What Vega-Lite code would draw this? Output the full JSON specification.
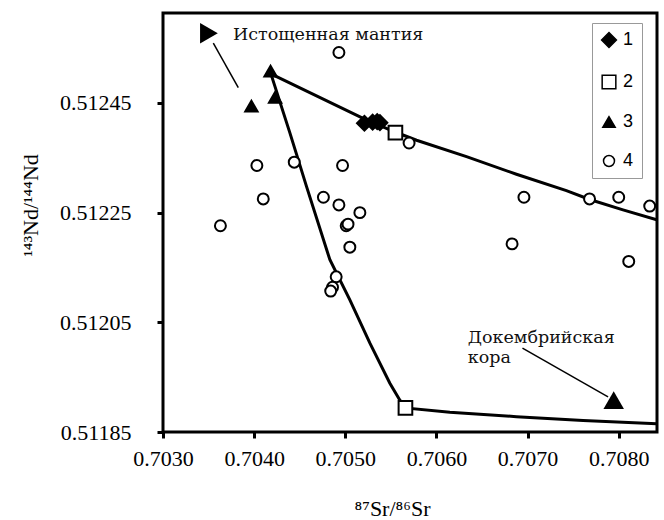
{
  "$schema": "https://vega.github.io/schema/vega-lite/v6.json",
  "width": 494,
  "height": 419,
  "autosize": {"type": "none"},
  "padding": {"left": 163, "top": 13, "right": 7, "bottom": 88},
  "background": "white",
  "config": {
    "view": {"stroke": "black", "strokeWidth": 3},
    "axis": {
      "domain": false,
      "grid": false,
      "ticks": true,
      "tickColor": "black",
      "tickWidth": 3,
      "tickSize": 6,
      "labelFlush": false,
      "labelOverlap": false,
      "labelFont": "Liberation Serif",
      "labelFontSize": 22,
      "labelColor": "black",
      "titleFont": "Liberation Serif",
      "titleFontSize": 22,
      "titleFontWeight": "normal",
      "titleColor": "black"
    },
    "legend": {
      "labelFont": "Liberation Sans",
      "labelFontSize": 18,
      "labelColor": "black"
    }
  },
  "datasets": {
    "pts": [
      {"x": 0.70521, "y": 0.512413, "type": "1"},
      {"x": 0.70530, "y": 0.512415, "type": "1"},
      {"x": 0.70535, "y": 0.512416, "type": "1"},
      {"x": 0.70538, "y": 0.512414, "type": "1"},
      {"x": 0.70555, "y": 0.512396, "type": "2"},
      {"x": 0.70566, "y": 0.511894, "type": "2"},
      {"x": 0.70418, "y": 0.512508, "type": "3"},
      {"x": 0.70423, "y": 0.512460, "type": "3"},
      {"x": 0.70397, "y": 0.512444, "type": "3"},
      {"x": 0.70493, "y": 0.512542, "type": "4"},
      {"x": 0.70403, "y": 0.512336, "type": "4"},
      {"x": 0.70444, "y": 0.512342, "type": "4"},
      {"x": 0.70497, "y": 0.512336, "type": "4"},
      {"x": 0.70410, "y": 0.512275, "type": "4"},
      {"x": 0.70476, "y": 0.512278, "type": "4"},
      {"x": 0.70493, "y": 0.512264, "type": "4"},
      {"x": 0.70516, "y": 0.512250, "type": "4"},
      {"x": 0.70501, "y": 0.512226, "type": "4"},
      {"x": 0.70503, "y": 0.512229, "type": "4"},
      {"x": 0.70363, "y": 0.512226, "type": "4"},
      {"x": 0.70505, "y": 0.512187, "type": "4"},
      {"x": 0.70490, "y": 0.512133, "type": "4"},
      {"x": 0.70486, "y": 0.512114, "type": "4"},
      {"x": 0.70484, "y": 0.512107, "type": "4"},
      {"x": 0.70570, "y": 0.512377, "type": "4"},
      {"x": 0.70696, "y": 0.512278, "type": "4"},
      {"x": 0.70683, "y": 0.512193, "type": "4"},
      {"x": 0.70768, "y": 0.512275, "type": "4"},
      {"x": 0.70800, "y": 0.512278, "type": "4"},
      {"x": 0.70834, "y": 0.512262, "type": "4"},
      {"x": 0.70811, "y": 0.512161, "type": "4"}
    ],
    "lines": [
      {"line": "a", "ord": 1, "x": 0.704184, "y": 0.512503},
      {"line": "a", "ord": 2, "x": 0.705196, "y": 0.512422},
      {"line": "a", "ord": 3, "x": 0.705547, "y": 0.512397},
      {"line": "a", "ord": 4, "x": 0.705782, "y": 0.512382},
      {"line": "a", "ord": 5, "x": 0.706330, "y": 0.512352},
      {"line": "a", "ord": 6, "x": 0.706878, "y": 0.512320},
      {"line": "a", "ord": 7, "x": 0.707426, "y": 0.512290},
      {"line": "a", "ord": 8, "x": 0.707682, "y": 0.512274},
      {"line": "a", "ord": 9, "x": 0.708047, "y": 0.512255},
      {"line": "a", "ord": 10, "x": 0.708417, "y": 0.512237},
      {"line": "b", "ord": 1, "x": 0.704184, "y": 0.512503},
      {"line": "b", "ord": 2, "x": 0.704393, "y": 0.512395},
      {"line": "b", "ord": 3, "x": 0.704576, "y": 0.512297},
      {"line": "b", "ord": 4, "x": 0.704831, "y": 0.512164},
      {"line": "b", "ord": 5, "x": 0.705050, "y": 0.512091},
      {"line": "b", "ord": 6, "x": 0.705270, "y": 0.512012},
      {"line": "b", "ord": 7, "x": 0.705489, "y": 0.511939},
      {"line": "b", "ord": 8, "x": 0.705599, "y": 0.511908},
      {"line": "b", "ord": 9, "x": 0.705654, "y": 0.511894},
      {"line": "b", "ord": 10, "x": 0.706147, "y": 0.511886},
      {"line": "b", "ord": 11, "x": 0.706878, "y": 0.511878},
      {"line": "b", "ord": 12, "x": 0.707609, "y": 0.511871},
      {"line": "b", "ord": 13, "x": 0.708417, "y": 0.511865}
    ],
    "arrows": [
      {"x": 0.703826, "y": 0.512478, "x2": 0.703552, "y2": 0.512559},
      {"x": 0.706944, "y": 0.512003, "x2": 0.707883, "y2": 0.511914}
    ],
    "heads": [
      {"x": 0.703504, "y": 0.512577, "shape": "triangle-right"},
      {"x": 0.707945, "y": 0.511908, "shape": "triangle-up"}
    ],
    "labels": [
      {"x": 0.703768, "y": 0.512565, "text": "Истощенная мантия"},
      {"x": 0.706344, "y": 0.512012, "text": "Докембрийская"},
      {"x": 0.706344, "y": 0.511976, "text": "кора"}
    ]
  },
  "encoding": {
    "x": {
      "field": "x", "type": "quantitative",
      "scale": {"domain": [0.7030, 0.70842], "nice": false, "zero": false},
      "axis": {
        "values": [0.703, 0.704, 0.705, 0.706, 0.707, 0.708],
        "format": ".4f",
        "labelPadding": 10,
        "title": "⁸⁷Sr/⁸⁶Sr",
        "titleX": 229,
        "titleY": 83,
        "titleBaseline": "alphabetic"
      }
    },
    "y": {
      "field": "y", "type": "quantitative",
      "scale": {"domain": [0.51185, 0.512614], "nice": false, "zero": false},
      "axis": {
        "values": [0.51185, 0.51205, 0.51225, 0.51245],
        "format": ".5f",
        "labelPadding": 26,
        "title": "¹⁴³Nd/¹⁴⁴Nd",
        "titleX": -126,
        "titleY": 192,
        "titleBaseline": "alphabetic"
      }
    }
  },
  "layer": [
    {
      "data": {"name": "lines"},
      "mark": {"type": "line", "color": "black", "strokeWidth": 3, "clip": true},
      "encoding": {
        "detail": {"field": "line", "type": "nominal"},
        "order": {"field": "ord", "type": "quantitative"}
      }
    },
    {
      "data": {"name": "arrows"},
      "mark": {"type": "rule", "color": "black", "strokeWidth": 1.5},
      "encoding": {
        "x2": {"field": "x2"},
        "y2": {"field": "y2"}
      }
    },
    {
      "data": {"name": "heads"},
      "mark": {"type": "point", "filled": true, "color": "black", "size": 420, "opacity": 1},
      "encoding": {
        "shape": {"field": "shape", "type": "nominal", "scale": null}
      }
    },
    {
      "data": {"name": "pts"},
      "mark": {"type": "point", "strokeWidth": 2, "opacity": 1, "clip": true},
      "encoding": {
        "shape": {
          "field": "type", "type": "nominal",
          "scale": {"domain": ["1", "2", "3", "4"], "range": ["diamond", "square", "triangle-up", "circle"]},
          "legend": {
            "title": null,
            "orient": "none",
            "legendX": 429,
            "legendY": 10,
            "strokeColor": "#999999",
            "fillColor": "white",
            "padding": 8,
            "rowPadding": 21,
            "labelOffset": 5,
            "symbolStrokeWidth": 1.5
          }
        },
        "fill": {
          "field": "type", "type": "nominal",
          "scale": {"domain": ["1", "2", "3", "4"], "range": ["black", "white", "black", "white"]}
        },
        "stroke": {
          "field": "type", "type": "nominal",
          "scale": {"domain": ["1", "2", "3", "4"], "range": ["black", "black", "black", "black"]}
        },
        "size": {
          "field": "type", "type": "nominal",
          "scale": {"domain": ["1", "2", "3", "4"], "range": [220, 120, 170, 140]}
        }
      }
    },
    {
      "data": {"name": "labels"},
      "mark": {"type": "text", "font": "DejaVu Serif", "fontSize": 17.5, "align": "left", "baseline": "alphabetic", "color": "#111111"},
      "encoding": {
        "text": {"field": "text", "type": "nominal"}
      }
    }
  ]
}
